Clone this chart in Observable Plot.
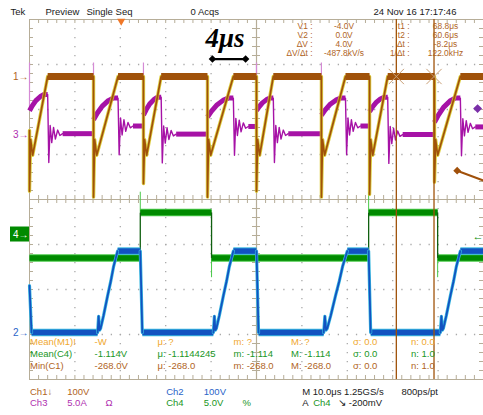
<!DOCTYPE html>
<html><head><meta charset="utf-8">
<script src="https://cdn.jsdelivr.net/npm/d3@7"></script>
<script src="https://cdn.jsdelivr.net/npm/@observablehq/plot@0.6"></script>
<style>html,body{margin:0;padding:0;background:#fff;overflow:hidden}svg{display:block}</style>
</head><body><div id="chart"></div>
<script>
// ---------------- DATA ----------------
// time in µs from the left edge of the graticule (10 µs/div, 10 divisions)
// Ch1 (switch-node voltage, 100 V/div)
const ch1FallUs    = [0, 14.1, 25.1, 39.2, 50.0, 64.3, 74.9, 89.2];
const ch1RampEndUs = [4.0, 19.5, 29.0, 44.9, 53.7, 69.6, 78.9, 94.9];
const ch1SpikeV    = [-255, -268, -238, -268, -255, -268, -262, -235];
const ch1HighV = 0, ch1ValleyV = -175, ch1ReboundV = -140, ch1EntryV = -120;
const ch1ReboundUs = 0.25, ch1ValleyUs = 0.7;
// Ch3 (current, 5 A/div) – same switching events as Ch1
const ch3StartA  = [2.7, 1.7, 2.2, 2.0, 2.7, 2.2, 2.6, 1.4];
const ch3PeakA   = [4.5, 4.1, 4.2, 4.1, 4.1, 4.1, 4.2, 4.1];
const ch3SettleA = [0.15, 1.0, 0.1, 0.95, 0.15, 1.0, 0.05, 0.9];
const ch3SpikeA  = [8.0, 8.0, 8.0, 4.5, 8.0, 8.0, 5.0, 5.0];
const ch3RiseShape = [[0,0],[0.15,0.3],[0.35,0.62],[0.6,0.88],[0.8,1],[1,1]];
const ch3RingUs = [0.25, 0.55, 0.9, 1.3, 1.7, 2.2, 2.7, 3.3];
const ch3RingA  = [-3.2, 0.9, -1.0, 0.7, -0.6, 0.4, -0.2, 0];
// Ch2 (100 V/div)
const ch2FallUs      = [0, 24.4, 50.0, 74.7];
const ch2RiseStartUs = [15.0, 40.5, 64.8, 90.5];
const ch2RiseEndUs   = [19.4, 44.9, 70.0, 94.9];
const ch2RiseShape = [[0,0],[0.05,0.2],[0.1,0.03],[0.15,0.05],[0.3,0.21],[0.5,0.45],[0.66,0.63],[0.8,0.81],[1,1]];
const ch2HighV = 181, ch2LowV = 0, ch2EntryV = 104, ch2FallDurUs = 0.45;
// Ch4 (gate, 5 V/div)
const ch4RiseUs = [24.4, 74.7];
const ch4FallUs = [40.1, 89.9];
const ch4HighV = 2.45, ch4LowV = -2.6, ch4SpikeUpV = 4.7, ch4SpikeDownV = -4.8;
const ch4TriggerV = -0.2;
// cursors and trigger
const cursorUs = [80.8, 89.1];
const triggerUs = 20.2;
// channel settings
const chPerDiv = {ch1: 100, ch2: 100, ch3: 5, ch4: 5};
const chOffsetDiv = {ch1: 2.733, ch2: -2.956, ch3: 1.433, ch4: -0.778};

// texts
const statusTop = ["Tek", "Preview", "Single Seq", "0 Acqs", "24 Nov 16 17:17:46"];
const cursorLabelsV = ["V1 :", "V2 :", "ΔV :", "ΔV/Δt :"];
const cursorValuesV = ["-4.0V", "0.0V", "4.0V", "-487.8kV/s"];
const cursorLabelsT = ["t1 :", "t2 :", "Δt :", "1/Δt :"];
const cursorValuesT = ["68.8μs", "60.6μs", "-8.2μs", "122.0kHz"];
const measRows = [
  ["Mean(M1)!", "-W", "μ: ?", "m: ?", "M: ?", "σ: 0.0", "n: 0.0"],
  ["Mean(C4)", "-1.114V", "μ: -1.1144245", "m: -1.114", "M: -1.114", "σ: 0.0", "n: 1.0"],
  ["Min(C1)", "-268.0V", "μ: -268.0", "m: -268.0", "M: -268.0", "σ: 0.0", "n: 1.0"]
];
const footerRow1 = ["Ch1↓", "100V", "Ch2", "100V", "M 10.0μs 1.25GS/s", "800ps/pt"];
const footerRow2 = ["Ch3", "5.0A", "Ω", "Ch4", "5.0V", "%", "A", "Ch4", "↘", "-200mV"];
const annotationText = "4μs";

// ---------------- LAYOUT / STYLE ----------------
const W = 483, H = 415, mL = 29, mR = 0, mT = 19, mB = 36;
const C = {
  brown: "#a0520a", yellow: "#d8c820", purple: "#a612a6", lpurple: "#d58ad5",
  blue: "#1252c0", cyan: "#38b8e0", green: "#008a00", lgreen: "#48c848",
  grid: "#a9a9a9", tick: "#b6ad98", txtBrown: "#b0641e", txtOrange: "#f0a830",
  txtGreen: "#20961e", txtBlue: "#2a64c8", txtPurple: "#b030b0", black: "#1a1a1a"
};
const toDiv = (ch, v) => chOffsetDiv[ch] + v / chPerDiv[ch];
const butt = {strokeLinecap: "butt", strokeLinejoin: "miter"};

// ---------------- BUILD TRACES ----------------
const ch1Edges = [], ch1Plateaus = [];
ch1FallUs.forEach((tf, i) => {
  const tr = ch1RampEndUs[i];
  const next = i + 1 < ch1FallUs.length ? ch1FallUs[i + 1] : 100;
  [[tf, i === 0 ? ch1EntryV : ch1HighV], [tf, ch1SpikeV[i]], [tf + ch1ReboundUs, ch1ReboundV],
   [tf + ch1ValleyUs, ch1ValleyV], [tr, ch1HighV]].forEach(([t, v]) => ch1Edges.push({t, v, z: i}));
  ch1Plateaus.push({t: tr, v: ch1HighV, z: i}, {t: next, v: ch1HighV, z: i});
});

const ch3Thin = [], ch3Thick = [], ch3Spikes = [];
ch1FallUs.forEach((tf, i) => {
  const tr = ch1RampEndUs[i];
  const next = i + 1 < ch1FallUs.length ? ch1FallUs[i + 1] : 100;
  const start = ch3StartA[i], peak = ch3PeakA[i], settle = ch3SettleA[i];
  if (i > 0) ch3Thin.push({t: tf, v: ch3SettleA[i - 1], z: "j" + i}, {t: tf, v: start, z: "j" + i});
  ch3Spikes.push({t: tf, a: start, b: ch3SpikeA[i]});
  ch3RiseShape.forEach(([f, g]) => ch3Thick.push({t: tf + f * (tr - tf), v: start + g * (peak - start), z: "r" + i}));
  ch3Thin.push({t: tr, v: peak, z: "g" + i});
  ch3RingUs.forEach((dt, k) => ch3Thin.push({t: tr + dt, v: settle + ch3RingA[k], z: "g" + i}));
  const ringEnd = tr + ch3RingUs[ch3RingUs.length - 1];
  ch3Thick.push({t: ringEnd, v: settle, z: "s" + i}, {t: Math.min(next, 100), v: settle, z: "s" + i});
});

const ch2Thin = [], ch2Thick = [];
ch2FallUs.forEach((tf, i) => {
  const rs = ch2RiseStartUs[i], re = ch2RiseEndUs[i];
  const next = i + 1 < ch2FallUs.length ? ch2FallUs[i + 1] : 100;
  ch2Thin.push({t: tf, v: i === 0 ? ch2EntryV : ch2HighV, z: "f" + i}, {t: tf + ch2FallDurUs, v: ch2LowV, z: "f" + i});
  ch2Thick.push({t: tf + ch2FallDurUs, v: ch2LowV, z: "l" + i}, {t: rs, v: ch2LowV, z: "l" + i});
  ch2RiseShape.forEach(([f, g]) => ch2Thin.push({t: rs + f * (re - rs), v: ch2LowV + g * (ch2HighV - ch2LowV), z: "r" + i}));
  ch2Thick.push({t: re, v: ch2HighV, z: "h" + i}, {t: next, v: ch2HighV, z: "h" + i});
});

const ch4Thick = [], ch4Thin = [], ch4Spikes = [];
let t0 = 0;
ch4RiseUs.forEach((tr, i) => {
  const tf = ch4FallUs[i];
  ch4Thick.push({t: t0, v: ch4LowV, z: "l" + i}, {t: tr, v: ch4LowV, z: "l" + i});
  ch4Thin.push({t: tr, v: ch4LowV, z: "r" + i}, {t: tr, v: ch4HighV, z: "r" + i});
  ch4Thick.push({t: tr, v: ch4HighV, z: "h" + i}, {t: tf, v: ch4HighV, z: "h" + i});
  ch4Thin.push({t: tf, v: ch4HighV, z: "f" + i}, {t: tf, v: ch4LowV, z: "f" + i});
  ch4Spikes.push({t: tr, a: ch4HighV, b: ch4SpikeUpV}, {t: tf, a: ch4LowV, b: ch4SpikeDownV});
  t0 = tf;
});
ch4Thick.push({t: t0, v: ch4LowV, z: "end"}, {t: 100, v: ch4LowV, z: "end"});

// ---------------- GRATICULE ----------------
const pxX = 100 / (W - mL - mR), pxY = 8 / (H - mT - mB);
const minorX = d3.range(0, 100.001, 2), minorY = d3.range(-4, 4.001, 0.2);
const divX = [10, 20, 30, 40, 60, 70, 80, 90], divY = [-3, -2, -1, 1, 2, 3];
const tk = 4;

// text helper (pixel placement relative to the frame)
const txt = (s, px, py, fill, o = {}) => Plot.text([s], {
  frameAnchor: "top-left", dx: px - mL, dy: py - mT, text: d => d, fill,
  textAnchor: "start", lineAnchor: "middle", fontSize: 9.5, ...o
});

const marks = [
  // graticule
  Plot.ruleX(divX, {stroke: C.grid, strokeWidth: 1.3, strokeDasharray: "1.3,7.7"}),
  Plot.ruleY(divY, {stroke: C.grid, strokeWidth: 1.3, strokeDasharray: "1.3,7.78"}),
  Plot.frame({stroke: C.tick, strokeWidth: 1}),
  Plot.ruleX([50], {stroke: C.tick, strokeWidth: 1.2}),
  Plot.ruleY([0], {stroke: C.tick, strokeWidth: 1.2}),
  Plot.ruleX(minorX, {y1: -tk * pxY, y2: tk * pxY, stroke: C.tick}),
  Plot.ruleY(minorY, {x1: 50 - tk * pxX, x2: 50 + tk * pxX, stroke: C.tick}),
  Plot.ruleX(minorX, {y1: 4, y2: 4 - tk * pxY, stroke: C.tick}),
  Plot.ruleX(minorX, {y1: -4, y2: -4 + tk * pxY, stroke: C.tick}),
  Plot.ruleY(minorY, {x1: 0, x2: tk * pxX, stroke: C.tick}),
  Plot.ruleY(minorY, {x1: 100, x2: 100 - tk * pxX, stroke: C.tick}),

  // Ch4 green
  Plot.ruleX(ch4Spikes, {x: "t", y1: d => toDiv("ch4", d.a), y2: d => toDiv("ch4", d.b), stroke: C.lgreen, strokeWidth: 1}),
  Plot.line(ch4Thick, {x: "t", y: d => toDiv("ch4", d.v), z: "z", stroke: C.lgreen, strokeWidth: 7.5, ...butt}),
  Plot.line(ch4Thick, {x: "t", y: d => toDiv("ch4", d.v), z: "z", stroke: C.green, strokeWidth: 5.5, ...butt}),
  Plot.line(ch4Thin, {x: "t", y: d => toDiv("ch4", d.v), z: "z", stroke: "#106010", strokeWidth: 1.3, ...butt}),

  // Ch2 blue
  Plot.line(ch2Thick, {x: "t", y: d => toDiv("ch2", d.v), z: "z", stroke: C.cyan, strokeWidth: 7.5, ...butt}),
  Plot.line(ch2Thick, {x: "t", y: d => toDiv("ch2", d.v), z: "z", stroke: C.blue, strokeWidth: 5.5, ...butt}),
  Plot.line(ch2Thin, {x: "t", y: d => toDiv("ch2", d.v), z: "z", stroke: C.cyan, strokeWidth: 3.2}),
  Plot.line(ch2Thin, {x: "t", y: d => toDiv("ch2", d.v), z: "z", stroke: C.blue, strokeWidth: 1.8}),

  // Ch3 purple
  Plot.ruleX(ch3Spikes, {x: "t", y1: d => toDiv("ch3", d.a), y2: d => toDiv("ch3", d.b), stroke: C.lpurple, strokeWidth: 1.2}),
  Plot.line(ch3Thin, {x: "t", y: d => toDiv("ch3", d.v), z: "z", stroke: C.purple, strokeWidth: 1.4}),
  Plot.line(ch3Thick, {x: "t", y: d => toDiv("ch3", d.v), z: "z", stroke: C.purple, strokeWidth: 5, ...butt}),

  // Ch1 brown
  Plot.line(ch1Edges, {x: "t", y: d => toDiv("ch1", d.v), z: "z", stroke: C.yellow, strokeWidth: 3.4, strokeOpacity: 0.85}),
  Plot.line(ch1Edges, {x: "t", y: d => toDiv("ch1", d.v), z: "z", stroke: C.brown, strokeWidth: 1.7}),
  Plot.line(ch1Plateaus, {x: "t", y: d => toDiv("ch1", d.v), z: "z", stroke: C.brown, strokeWidth: 7, ...butt}),

  // cursors
  Plot.ruleX(cursorUs, {y1: -4, y2: 4, stroke: C.brown, strokeWidth: 1.3}),
  Plot.dot(cursorUs, {x: d => d, y: toDiv("ch1", ch1HighV), symbol: "times", r: 7, stroke: "#c9a078", strokeWidth: 1}),
  // trigger position marker
  Plot.dot([triggerUs], {x: d => d, y: 4 - 1.5 * pxY, symbol: "triangle", rotate: 180, r: 3, fill: "#f07828", stroke: "none"}),

  // channel ground markers (left) and trigger level (right)
  Plot.text(["1→"], {x: 0, y: chOffsetDiv.ch1, dx: -1, textAnchor: "end", fill: C.txtBrown, fontSize: 10}),
  Plot.text(["3→"], {x: 0, y: chOffsetDiv.ch3, dx: -1, textAnchor: "end", fill: C.txtPurple, fontSize: 10}),
  Plot.rect([0], {x1: -19 * pxX, x2: 0, y1: chOffsetDiv.ch4 - 7.5 * pxY, y2: chOffsetDiv.ch4 + 7.5 * pxY, fill: C.green}),
  Plot.text(["4→"], {x: 0, y: chOffsetDiv.ch4, dx: -1, textAnchor: "end", fill: "white", fontSize: 10}),
  Plot.text(["2→"], {x: 0, y: chOffsetDiv.ch2, dx: -1, textAnchor: "end", fill: C.txtBlue, fontSize: 10}),
  Plot.text(["←"], {x: 100, y: toDiv("ch4", ch4TriggerV), textAnchor: "end", fill: C.green, fontSize: 11}),

  // hand-drawn annotations
  Plot.line([40.3, 47.6], {x: d => d, y: 3.12, stroke: "black", strokeWidth: 2.2}),
  Plot.dot([40.3, 47.6], {x: d => d, y: 3.12, symbol: "diamond2", r: 3.4, fill: "black"}),
  Plot.dot([98.7], {x: d => d, y: 2.02, symbol: "diamond2", r: 4, fill: "#7a2fa8"}),
  Plot.line([[94.2, 0.64], [100, 0.42]], {x: d => d[0], y: d => d[1], stroke: "#a0500a", strokeWidth: 2}),
  Plot.dot([94.2], {x: d => d, y: 0.64, symbol: "diamond2", r: 3.5, fill: "#a0500a"}),
  txt(annotationText, 205, 38, "black", {fontSize: 27, fontStyle: "italic", fontWeight: "bold", fontFamily: "'Liberation Serif', 'DejaVu Serif', serif"}),
];

// status line
[10, 45, 86, 190, 373].forEach((x, i) => marks.push(txt(statusTop[i], x, 11.5, C.black)));
// cursor readouts
const cRowY = [25.5, 34.5, 43.5, 52.5];
cRowY.forEach((y, i) => {
  const o = {fontSize: 8.4};
  marks.push(txt(cursorLabelsV[i], 312, y, C.txtBrown, {...o, textAnchor: "end"}));
  marks.push(txt(cursorValuesV[i], 343.5, y, C.txtBrown, {...o, textAnchor: "middle"}));
  marks.push(txt(cursorLabelsT[i], 409, y, C.txtBrown, {...o, textAnchor: "end"}));
  marks.push(txt(cursorValuesT[i], 445, y, C.txtBrown, {...o, textAnchor: "middle"}));
});
// measurements
const mColX = [29.5, 94, 157, 233, 290.5, 352.5, 410.5];
const mRowY = [341.5, 353.5, 365];
const mColors = [C.txtOrange, C.txtGreen, C.txtBrown];
measRows.forEach((row, r) => row.forEach((s, c) => marks.push(txt(s, mColX[c], mRowY[r], mColors[r]))));
// footer
const f1X = [29.5, 66.7, 165.7, 203.3, 301.7, 401];
const f1C = [C.txtBrown, C.txtBrown, C.txtBlue, C.txtBlue, C.black, C.black];
footerRow1.forEach((s, i) => marks.push(txt(s, f1X[i], 391, f1C[i])));
const f2X = [29.5, 66.7, 105, 165.7, 203.3, 242, 301.7, 312.7, 337, 348.3];
const f2C = [C.txtPurple, C.txtPurple, C.txtPurple, C.txtGreen, C.txtGreen, C.txtGreen, C.black, C.txtGreen, C.black, C.black];
footerRow2.forEach((s, i) => marks.push(txt(s, f2X[i], 402.5, f2C[i])));

const chart = Plot.plot({
  width: W, height: H,
  marginLeft: mL, marginRight: mR, marginTop: mT, marginBottom: mB,
  x: {domain: [0, 100], axis: null},
  y: {domain: [-4, 4], axis: null},
  style: {background: "white", fontFamily: "'Liberation Sans', Arial, sans-serif", fontSize: "9.5px", overflow: "visible"},
  marks
});
document.getElementById("chart").appendChild(chart);
</script></body></html>
